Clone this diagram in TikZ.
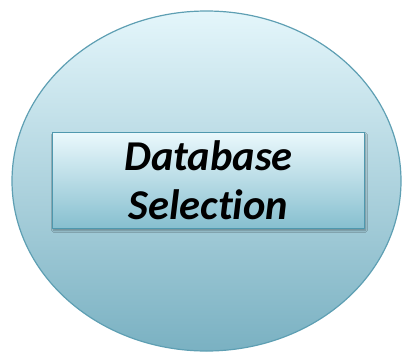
\documentclass[tikz,border=0pt]{standalone}
\usepackage{fontspec}
\setmainfont{Carlito}[Ligatures=NoCommon]
\usetikzlibrary{shapes.geometric,shadows.blur}
\definecolor{ovaltop}{HTML}{E4F6FB}
\definecolor{ovalbot}{HTML}{7AB1C2}
\definecolor{ovalline}{HTML}{5E9FB3}
\definecolor{boxtop}{HTML}{EAF8FC}
\definecolor{boxbot}{HTML}{86BFCF}
\definecolor{boxline}{HTML}{4F98AE}
\begin{document}
\begin{tikzpicture}[y=-1pt,x=1pt]
        \tikzset{
            oval/.style={ellipse,draw=ovalline,line width=1.2pt,top color=ovaltop,bottom color=ovalbot,minimum width=389pt,minimum height=340pt,inner sep=0pt},
            stagebox/.style={rectangle,draw=boxline,line width=1.2pt,top color=boxtop,bottom color=boxbot,minimum width=312pt,minimum height=96pt,align=center,font=\fontsize{42.5}{51}\selectfont\bfseries\itshape,blur shadow={shadow blur steps=6,shadow xshift=1pt,shadow yshift=-2pt,shadow opacity=35}}
        }
        \useasboundingbox (0,0) rectangle (403,351);
        \node[oval] (db) at (206.5,181) {};
        \node[stagebox] (sel) at (208.5,180.5) {Database\\[-2pt]Selection};
    \end{tikzpicture}
\end{document}
